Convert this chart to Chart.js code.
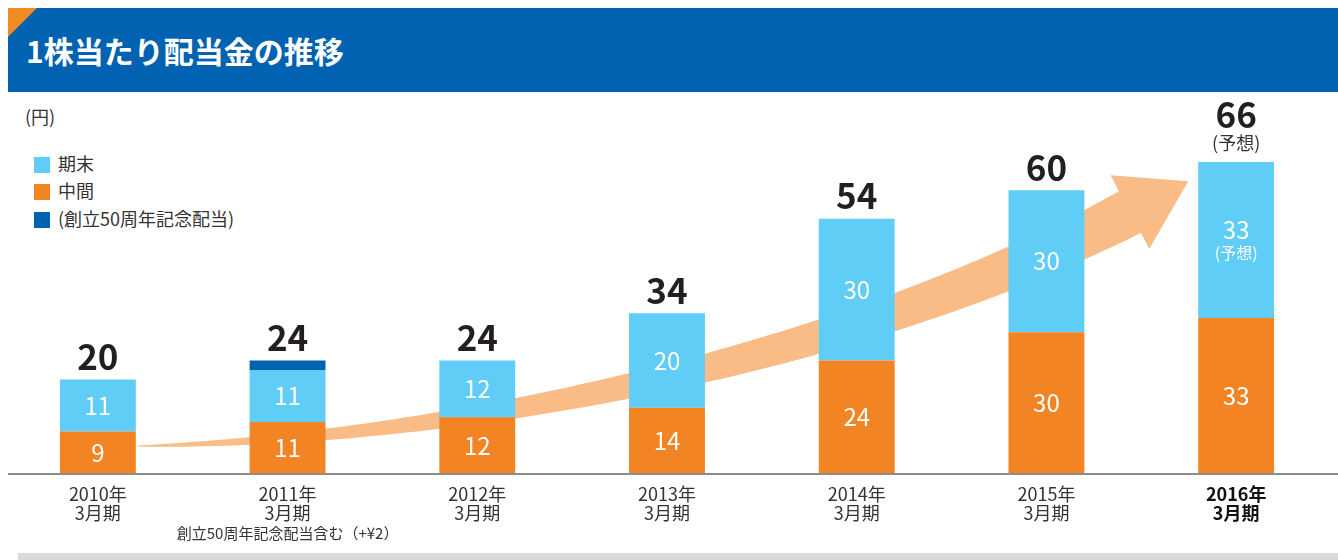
<!DOCTYPE html>
<html lang="ja">
<head>
<meta charset="utf-8">
<title>1株当たり配当金の推移</title>
<script src="https://cdn.jsdelivr.net/npm/chart.js@4.4.0/dist/chart.umd.min.js"></script>
<style>
body { margin: 0; background: #fff; font-family: "Noto Sans CJK JP", sans-serif; }
#wrap { position: relative; width: 1338px; height: 560px; overflow: hidden; }
#head { position: absolute; left: 8px; top: 8px; width: 1330px; height: 84px; background: #0062b0; }
#head .tri { position: absolute; left: 0; top: 0; width: 0; height: 0;
  border-top: 29px solid #f28a22; border-right: 29px solid transparent; }
#head h1 { margin: 0; position: absolute; left: 18px; top: 0; line-height: 84px;
  color: #fff; font-size: 30px; font-weight: bold; letter-spacing: 0; }
#band { position: absolute; left: 18px; top: 553px; width: 1320px; height: 7px; background: #d9d9d9; }
#unit { position: absolute; left: 25px; top: 103px; font-size: 18px; color: #333; }
.lg { position: absolute; left: 34px; font-size: 18px; color: #333; line-height: 20px; }
.lg i { display: inline-block; width: 16px; height: 16px; vertical-align: -2px; margin-right: 8px; }
canvas { position: absolute; left: 0; top: 0; }
</style>
</head>
<body>
<div id="wrap">
  <div id="head"><div class="tri"></div><h1>1株当たり配当金の推移</h1></div>
  <div id="unit">(円)</div>
  <div class="lg" style="top:153px"><i style="background:#5fcdf6"></i>期末</div>
  <div class="lg" style="top:180px"><i style="background:#f38423"></i>中間</div>
  <div class="lg" style="top:208px"><i style="background:#0062b0"></i>(創立50周年記念配当)</div>
  <canvas id="miGrafico" width="1338" height="560"></canvas>
  <div id="band"></div>
</div>
<script>
// ------------------------------------------------------------------
// 1株当たり配当金の推移
// ------------------------------------------------------------------
const categories = [
    ['2010年', '3月期'], ['2011年', '3月期'], ['2012年', '3月期'], ['2013年', '3月期'],
    ['2014年', '3月期'], ['2015年', '3月期'], ['2016年', '3月期']
];
const chukan = [9, 11, 12, 14, 24, 30, 33];        // 中間
const kimatsu = [11, 11, 12, 20, 30, 30, 33];      // 期末
const kinen = [0, 2, 0, 0, 0, 0, 0];               // 創立50周年記念配当
const yosouIndex = 6;                              // (予想)
const noteIndex = 1;
const noteText = '創立50周年記念配当含む（+¥2）';
// trend arrow path, in category index / yen units
const trendPath = [[0.21, 5.9], [1.855, 7.2], [3.964, 24.1], [5.44, 55.4]];

let totals = categories.map((c, i) => chukan[i] + kimatsu[i] + kinen[i]);

const FONT = '"Noto Sans CJK JP", sans-serif';
Chart.defaults.font.family = FONT;

const arrowPlugin = {
    id: 'trendArrow',
    beforeDatasetsDraw(chart) {
        const { ctx, scales: { x, y } } = chart;
        const p = trendPath.map(v => [x.getPixelForValue(v[0]), y.getPixelForValue(v[1])]);
        const pt = t => {
            const a = (1 - t) ** 3, b = 3 * t * (1 - t) ** 2, c = 3 * t * t * (1 - t), d = t ** 3;
            return [a * p[0][0] + b * p[1][0] + c * p[2][0] + d * p[3][0],
                    a * p[0][1] + b * p[1][1] + c * p[2][1] + d * p[3][1]];
        };
        const tan = t => {
            const a = 3 * (1 - t) ** 2, b = 6 * (1 - t) * t, c = 3 * t * t;
            let dx = a * (p[1][0] - p[0][0]) + b * (p[2][0] - p[1][0]) + c * (p[3][0] - p[2][0]);
            let dy = a * (p[1][1] - p[0][1]) + b * (p[2][1] - p[1][1]) + c * (p[3][1] - p[2][1]);
            const l = Math.hypot(dx, dy);
            return [dx / l, dy / l];
        };
        const top = [], bot = [];
        const N = 100;
        for (let k = 0; k <= N; k++) {
            const t = k / N;
            const c = pt(t), u = tan(t);
            const w = (1 + 46 * Math.pow(t, 0.9)) / 2;
            top.push([c[0] + u[1] * w, c[1] - u[0] * w]);
            bot.push([c[0] - u[1] * w, c[1] + u[0] * w]);
        }
        const end = pt(1), u = tan(1);
        ctx.save();
        ctx.fillStyle = '#f9bc86';
        ctx.beginPath();
        ctx.moveTo(top[0][0], top[0][1]);
        for (const q of top) ctx.lineTo(q[0], q[1]);
        ctx.lineTo(end[0] + u[1] * 41.5, end[1] - u[0] * 41.5);
        ctx.lineTo(end[0] + u[0] * 66, end[1] + u[1] * 66);
        ctx.lineTo(end[0] - u[1] * 41.5, end[1] + u[0] * 41.5);
        for (let k = bot.length - 1; k >= 0; k--) ctx.lineTo(bot[k][0], bot[k][1]);
        ctx.closePath();
        ctx.fill();
        ctx.restore();
    }
};

const labelPlugin = {
    id: 'labels',
    afterDatasetsDraw(chart) {
        const { ctx, chartArea } = chart;
        ctx.save();
        // baseline
        ctx.strokeStyle = '#8c8c8c';
        ctx.lineWidth = 2;
        ctx.beginPath();
        ctx.moveTo(8, chartArea.bottom);
        ctx.lineTo(1338, chartArea.bottom);
        ctx.stroke();

        ctx.textAlign = 'center';
        ctx.textBaseline = 'middle';
        // values inside bars
        [0, 1].forEach(d => {
            const meta = chart.getDatasetMeta(d);
            meta.data.forEach((el, i) => {
                const v = chart.data.datasets[d].data[i];
                if (!v) return;
                const cy = (el.y + el.base) / 2;
                ctx.fillStyle = '#fff';
                if (d === 1 && i === yosouIndex) {
                    ctx.font = '24px ' + FONT;
                    ctx.fillText(v, el.x, cy - 10);
                    ctx.font = '16px ' + FONT;
                    ctx.fillText('(予想)', el.x, cy + 13);
                } else {
                    ctx.font = '24px ' + FONT;
                    ctx.fillText(v, el.x, cy);
                }
            });
        });
        // totals
        totals.forEach((tot, i) => {
            let topY = Infinity, cx = 0;
            chart.data.datasets.forEach((ds, d) => {
                const el = chart.getDatasetMeta(d).data[i];
                if (ds.data[i] > 0) { topY = Math.min(topY, el.y); cx = el.x; }
            });
            ctx.fillStyle = '#231f20';
            ctx.font = 'bold 35px ' + FONT;
            if (i === yosouIndex) {
                ctx.fillText(tot, cx, topY - 47);
                ctx.font = '18px ' + FONT;
                ctx.fillStyle = '#333';
                ctx.fillText('(予想)', cx, topY - 19);
            } else {
                ctx.fillText(tot, cx, topY - 23);
            }
        });
        // note under 2011
        ctx.font = '15px ' + FONT;
        ctx.fillStyle = '#333';
        ctx.fillText(noteText, chart.scales.x.getPixelForValue(noteIndex), chartArea.bottom + 59);
        ctx.restore();
    }
};

let mostrar = document.getElementById('miGrafico');
let grafico = new Chart(mostrar, {
    type: 'bar',
    data: {
        labels: categories,
        datasets: [
            { label: '中間', data: chukan, backgroundColor: '#f38423' },
            { label: '期末', data: kimatsu, backgroundColor: '#5fcdf6' },
            { label: '(創立50周年記念配当)', data: kinen, backgroundColor: '#0062b0' }
        ]
    },
    options: {
        responsive: false,
        animation: false,
        devicePixelRatio: 1,
        layout: { padding: { top: 143, left: 3, right: 7, bottom: 0 } },
        datasets: { bar: { barPercentage: 0.4, categoryPercentage: 1, borderWidth: 0 } },
        plugins: { legend: { display: false }, tooltip: { enabled: false } },
        scales: {
            x: {
                stacked: true,
                grid: { display: false },
                border: { display: false },
                ticks: {
                    autoSkip: false,
                    maxRotation: 0,
                    padding: 2,
                    color: ctx => ctx.index === yosouIndex ? '#111' : '#333',
                    font: ctx => ({ size: 18, weight: ctx.index === yosouIndex ? 'bold' : 'normal', lineHeight: 1.08 })
                },
                afterFit: s => { s.height = 86; }
            },
            y: { stacked: true, display: false, min: 0, max: 70 }
        }
    },
    plugins: [arrowPlugin, labelPlugin]
});
</script>
</body>
</html>
